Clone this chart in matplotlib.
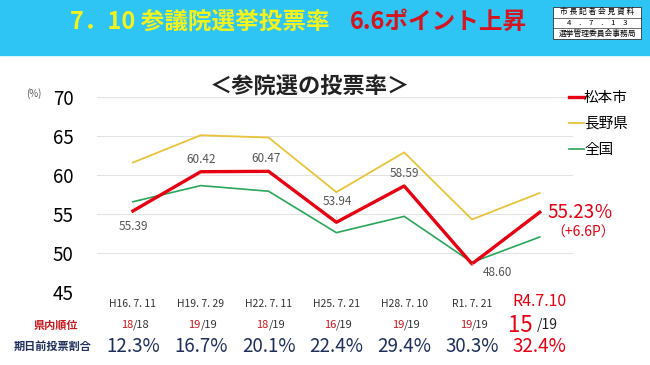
import matplotlib
matplotlib.use("Agg")
import matplotlib.pyplot as plt
from matplotlib.patches import Rectangle
from matplotlib.transforms import blended_transform_factory

plt.rcParams['font.family'] = ['Noto Sans CJK JP', 'DejaVu Sans']

# --- data ---
elections = ["H16. 7. 11", "H19. 7. 29", "H22. 7. 11", "H25. 7. 21",
             "H28. 7. 10", "R1. 7. 21", "R4.7.10"]
matsumoto = [55.39, 60.42, 60.47, 53.94, 58.59, 48.60, 55.23]
nagano = [61.6, 65.1, 64.8, 57.8, 62.9, 54.3, 57.7]
national = [56.57, 58.64, 57.92, 52.61, 54.70, 48.80, 52.05]
rank_in_pref = ["18", "19", "18", "16", "19", "19", "15"]
rank_total = ["18", "19", "19", "19", "19", "19", "19"]
early_vote = ["12.3%", "16.7%", "20.1%", "22.4%", "29.4%", "30.3%", "32.4%"]

RED = "#E60012"
YELLOW = "#E9C33A"
GREEN = "#2AA65A"
NAVY = "#1F2F5C"
GRAY = "#555555"

fig = plt.figure(figsize=(6.5, 3.65), dpi=100)

# --- banner ---
fig.patches.append(Rectangle((0, 1 - 55 / 365), 1, 55 / 365, transform=fig.transFigure,
                             color="#2EC4F3", zorder=0))
fig.text(0.107, 0.94, "7．10 参議院選挙投票率", color="#F2F21C", fontsize=17,
         fontweight="bold", va="center", ha="left")
fig.text(0.538, 0.94, "6.6ポイント上昇", color="#D7141E", fontsize=17,
         fontweight="bold", va="center", ha="left")

# stamp box at upper right
bx0, bx1 = 553 / 650, 641 / 650
by_top, by_bot = 1 - 7 / 365, 1 - 39 / 365
fig.patches.append(Rectangle((bx0, by_bot), bx1 - bx0, by_top - by_bot,
                             transform=fig.transFigure, facecolor="white",
                             edgecolor="#333333", lw=0.6, zorder=1))
rh = (by_top - by_bot) / 3
for i in (1, 2):
    fig.add_artist(plt.Line2D([bx0, bx1], [by_top - i * rh] * 2, transform=fig.transFigure,
                              color="#333333", lw=0.5))
xc = (bx0 + bx1) / 2
fig.text(xc, by_top - 0.5 * rh, "市 長 記 者 会 見 資 料", fontsize=5.6, ha="center", va="center")
fig.text(xc, by_top - 1.5 * rh, "4　.　7　.　1　3", fontsize=5.6, ha="center", va="center")
fig.text(xc, by_top - 2.5 * rh, "選挙管理委員会事務局", fontsize=5.6, ha="center", va="center")

# --- main chart ---
ax = fig.add_axes([97 / 650, 1 - 292 / 365, (573 - 97) / 650, (292 - 97) / 365])
x = list(range(len(elections)))
ax.plot(x, nagano, color=YELLOW, lw=1.3, label="長野県", zorder=2)
ax.plot(x, national, color=GREEN, lw=1.2, label="全国", zorder=2)
ax.plot(x, matsumoto, color=RED, lw=2.4, label="松本市", zorder=3)

ax.set_xlim(-0.53, 6.49)
ax.set_ylim(45, 70)
ax.set_yticks([45, 50, 55, 60, 65, 70])
ax.set_xticks([])
ax.grid(axis="y", color="#E3E3E3", lw=0.8)
ax.set_axisbelow(True)
for s in ax.spines.values():
    s.set_visible(False)
ax.tick_params(axis="y", length=0, labelsize=13.5, pad=17)

fig.text(26 / 650, 1 - 94 / 365, "(%)", fontsize=7, color=GRAY, ha="left", va="center")
fig.text(310 / 650, 1 - 87 / 365, "＜参院選の投票率＞", fontsize=16, fontweight="bold",
         ha="center", va="center", color="#222222")

# value labels
offsets = {0: (0, -11), 1: (0, 9), 2: (-2, 9), 3: (1, 15), 4: (0, 9), 5: (18, -6)}
leader = dict(arrowstyle="-", color="#CCCCCC", lw=0.6, shrinkA=4, shrinkB=2)
for i, (dx, dy) in offsets.items():
    ax.annotate(f"{matsumoto[i]:.2f}", (x[i], matsumoto[i]), xytext=(dx, dy),
                textcoords="offset points", ha="center", va="center",
                fontsize=8.5, color=GRAY,
                arrowprops=leader if i in (3, 5) else None)
ax.annotate(f"{matsumoto[6]:.2f}％", (x[6], matsumoto[6]), xytext=(29, 0),
            textcoords="offset points", ha="center", va="center",
            fontsize=13.5, color=RED, annotation_clip=False)
ax.annotate("（+6.6P）", (x[6], matsumoto[6]), xytext=(31, -15),
            textcoords="offset points", ha="center", va="center",
            fontsize=10, color=RED, annotation_clip=False)

# legend
handles, labels = ax.get_legend_handles_labels()
order = [2, 0, 1]
ax.legend([handles[i] for i in order], [labels[i] for i in order],
          loc="upper left", bbox_to_anchor=(0.965, 1.1), frameon=False,
          fontsize=10.5, handlelength=1.0, handletextpad=0.0, labelspacing=0.85)

# --- table under the chart ---
tr = blended_transform_factory(ax.transData, fig.transFigure)
y_lab = 1 - 304 / 365
y_rank = 1 - 325 / 365
y_early = 1 - 346 / 365
for i, lab in enumerate(elections):
    if i < len(elections) - 1:
        ax.text(x[i], y_lab, lab, transform=tr, ha="center", va="center",
                fontsize=7.5, color="#333333")
        ax.text(x[i], y_rank, rank_in_pref[i], transform=tr, ha="right", va="center",
                fontsize=8, color="#C8161D")
        ax.text(x[i], y_rank, "/" + rank_total[i], transform=tr, ha="left", va="center",
                fontsize=8, color="#333333")
        ax.text(x[i], y_early, early_vote[i], transform=tr, ha="center", va="center",
                fontsize=13.5, color=NAVY)
    else:
        ax.text(x[i], y_lab + 0.006, lab, transform=tr, ha="center", va="center",
                fontsize=11.5, color=RED)
        ax.text(x[i] - 0.1, y_rank, rank_in_pref[i], transform=tr, ha="right", va="center",
                fontsize=16, color=RED)
        ax.text(x[i] - 0.05, y_rank, "/" + rank_total[i], transform=tr, ha="left", va="center",
                fontsize=10, color="#222222")
        ax.text(x[i], y_early, early_vote[i], transform=tr, ha="center", va="center",
                fontsize=13.5, color=RED)

fig.text(78 / 650, y_rank, "県内順位", fontsize=8, color="#C8161D", ha="right",
         va="center", fontweight="bold")
fig.text(92 / 650, y_early, "期日前投票割合", fontsize=8, color=NAVY, ha="right",
         va="center", fontweight="bold")

fig.savefig("out.png", dpi=100, facecolor="white")
